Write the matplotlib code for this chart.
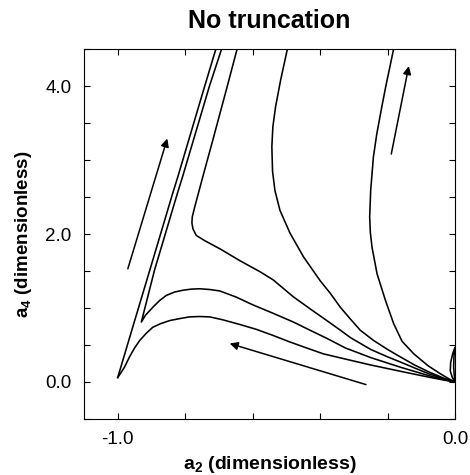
import matplotlib
matplotlib.use("Agg")
import matplotlib.pyplot as plt
from matplotlib.ticker import MultipleLocator, FixedLocator

plt.rcParams['font.family'] = ['Liberation Sans', 'DejaVu Sans']
plt.rcParams['mathtext.fontset'] = 'custom'
plt.rcParams['mathtext.bf'] = 'Liberation Sans:bold'
plt.rcParams['mathtext.rm'] = 'Liberation Sans'

# trajectories (a2, a4)
line_x = [-1.0, -0.951, -0.905, -0.837, -0.822, -0.742, -0.709]
line_y = [0.06, 0.81, 1.51, 2.55, 2.77, 4.0, 4.5]

a_x = [-1.0, -0.980, -0.965, -0.950, -0.935, -0.915, -0.896, -0.872, -0.846,
       -0.816, -0.787, -0.757, -0.727, -0.688, -0.640, -0.588, -0.540,
       -0.489, -0.440, -0.390, -0.325, -0.25, -0.162, -0.077, -0.035, 0.0]
a_y = [0.06, 0.20, 0.34, 0.46, 0.56, 0.66, 0.74, 0.79, 0.83,
       0.857, 0.88, 0.885, 0.88, 0.84, 0.78, 0.71, 0.63,
       0.54, 0.46, 0.38, 0.31, 0.23, 0.145, 0.065, 0.028, 0.0]

b_x = [-0.692, -0.728, -0.808, -0.823, -0.891, -0.930, -0.918, -0.896, -0.876,
       -0.856, -0.832, -0.807, -0.782, -0.757, -0.727, -0.697, -0.650,
       -0.598, -0.540, -0.479, -0.430, -0.380, -0.325, -0.25, -0.162,
       -0.077, -0.035, 0.0]
b_y = [4.5, 4.0, 2.77, 2.55, 1.51, 0.81, 0.90, 1.01, 1.10,
       1.17, 1.215, 1.24, 1.255, 1.26, 1.25, 1.23, 1.15,
       1.04, 0.93, 0.81, 0.70, 0.59, 0.46, 0.33, 0.20,
       0.085, 0.035, 0.0]

c_x = [-0.646, -0.675, -0.718, -0.745, -0.772, -0.779, -0.780, -0.777, -0.767,
       -0.742, -0.697, -0.638, -0.578, -0.539, -0.479, -0.430, -0.380,
       -0.340, -0.310, -0.25, -0.20, -0.162, -0.12, -0.077, -0.035, 0.0]
c_y = [4.5, 4.0, 3.27, 2.82, 2.36, 2.23, 2.15, 2.07, 1.98,
       1.91, 1.80, 1.64, 1.49, 1.38, 1.15, 0.99, 0.83,
       0.70, 0.60, 0.44, 0.34, 0.27, 0.19, 0.11, 0.045, 0.0]

d_x = [-0.497, -0.517, -0.532, -0.540, -0.543, -0.541, -0.534, -0.519, -0.489,
       -0.449, -0.400, -0.370, -0.340, -0.310, -0.281, -0.241, -0.20,
       -0.17, -0.12, -0.077, -0.035, 0.0]
d_y = [4.5, 4.08, 3.72, 3.45, 3.18, 2.85, 2.59, 2.32, 2.01,
       1.69, 1.37, 1.20, 1.01, 0.85, 0.70, 0.56, 0.44,
       0.36, 0.23, 0.135, 0.055, 0.0]

e_x = [-0.182, -0.205, -0.217, -0.232, -0.242, -0.250, -0.253, -0.251, -0.246,
       -0.231, -0.206, -0.182, -0.157, -0.122, -0.08, -0.043, -0.015, 0.0]
e_y = [4.5, 4.0, 3.72, 3.35, 3.04, 2.59, 2.23, 2.02, 1.82,
       1.46, 1.10, 0.79, 0.55, 0.38, 0.22, 0.11, 0.035, 0.0]

g_x = [0.0, -0.008, -0.014, -0.013, -0.007, 0.0, -0.003, -0.004, -0.002, 0.0]
g_y = [0.0, 0.06, 0.15, 0.26, 0.38, 0.47, 0.35, 0.20, 0.08, 0.0]

curves = [(line_x, line_y), (a_x, a_y), (b_x, b_y), (c_x, c_y),
          (d_x, d_y), (e_x, e_y), (g_x, g_y)]

# flow direction arrows: (tail, head)
arrows = [((-0.970, 1.53), (-0.853, 3.29)),
          ((-0.189, 3.08), (-0.137, 4.27)),
          ((-0.264, -0.035), (-0.668, 0.52))]

fig = plt.figure(figsize=(4.7, 4.75), dpi=100)
ax = fig.add_axes([0.1787, 0.1179, 0.7894, 0.7789])

for cx, cy in curves:
    ax.plot(cx, cy, color='black', linewidth=1.15, solid_joinstyle='round')

for tail, head in arrows:
    ax.annotate('', xy=head, xytext=tail,
                arrowprops=dict(arrowstyle='-|>', color='black', lw=1.1,
                                mutation_scale=12, shrinkA=0, shrinkB=0))

ax.set_xlim(-1.1, 0.0)
ax.set_ylim(-0.5, 4.5)
ax.xaxis.set_major_locator(FixedLocator([-1.0, 0.0]))
ax.xaxis.set_minor_locator(MultipleLocator(0.2))
ax.yaxis.set_major_locator(FixedLocator([0.0, 2.0, 4.0]))
ax.yaxis.set_minor_locator(MultipleLocator(0.5))
ax.set_xticklabels(['-1.0', '0.0'])
ax.set_yticklabels(['0.0', '2.0', '4.0'])
ax.tick_params(which='both', direction='in', top=True, right=True,
               width=0.8, labelsize=13.5)
ax.tick_params(which='major', length=4, pad=9)
ax.tick_params(which='minor', length=4)
for s in ax.spines.values():
    s.set_linewidth(0.8)

ax.set_title('No truncation', fontsize=18, fontweight='bold', pad=15)
ax.set_xlabel(r'$\mathbf{a_2}$ (dimensionless)', fontsize=14,
              fontweight='bold', labelpad=4)
ax.set_ylabel(r'$\mathbf{a_4}$ (dimensionless)', fontsize=13.5,
              fontweight='bold', labelpad=8)

fig.savefig('out.png', dpi=100)
